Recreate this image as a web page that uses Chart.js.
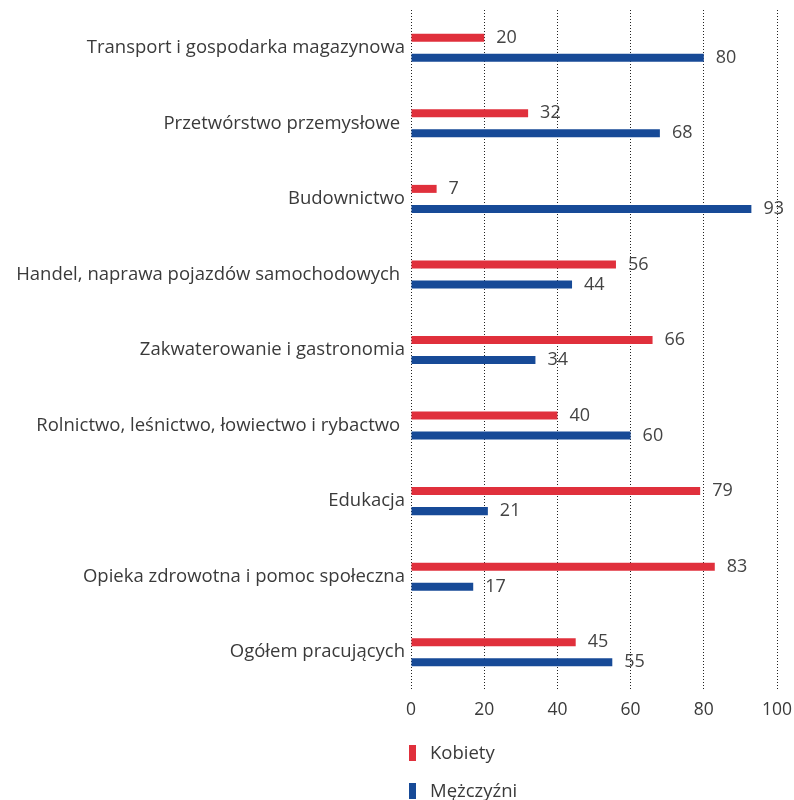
<!DOCTYPE html>
<html>
<head>
<meta charset="utf-8">
<script src="https://cdn.jsdelivr.net/npm/chart.js@4"></script>
<style>
  body { margin: 0; background: #fff; }
  #wrap { width: 794px; height: 800px; }
</style>
</head>
<body>
<div id="wrap"><canvas id="myChart" width="794" height="800"></canvas></div>
<script>
const categories = [
    "Transport i gospodarka magazynowa",
    "Przetwórstwo przemysłowe ",
    "Budownictwo",
    "Handel, naprawa pojazdów samochodowych ",
    "Zakwaterowanie i gastronomia",
    "Rolnictwo, leśnictwo, łowiectwo i rybactwo ",
    "Edukacja",
    "Opieka zdrowotna i pomoc społeczna",
    "Ogółem pracujących"
]
const kobiety = [20, 32, 7, 56, 66, 40, 79, 83, 45]
const mezczyzni = [80, 68, 93, 44, 34, 60, 21, 17, 55]
const xTicks = [0, 20, 40, 60, 80, 100]

const fontName = "'Open Sans', sans-serif"
const textColor = "#3a3a3a"

// etykiety z wartościami za słupkami
const valueLabels = {
    id: "valueLabels",
    afterDatasetsDraw(chart) {
        const ctx = chart.ctx
        ctx.save()
        ctx.font = "18px " + fontName
        ctx.fillStyle = "#444"
        ctx.textBaseline = "middle"
        ctx.textAlign = "left"
        chart.data.datasets.forEach((ds, i) => {
            chart.getDatasetMeta(i).data.forEach((bar, j) => {
                ctx.fillText(String(ds.data[j]), bar.x + 12, bar.y)
            })
        })
        ctx.restore()
    }
}

// legenda pionowa pod wykresem
const sideLegend = {
    id: "sideLegend",
    afterDraw(chart) {
        const ctx = chart.ctx
        ctx.save()
        ctx.font = "18.5px " + fontName
        ctx.textBaseline = "middle"
        chart.data.datasets.forEach((ds, i) => {
            const y = 753 + i * 38
            ctx.fillStyle = ds.backgroundColor
            ctx.fillRect(409, y - 8, 7, 16)
            ctx.fillStyle = textColor
            ctx.fillText(ds.label, 430, y + 1)
        })
        ctx.restore()
    }
}

const config = {
    type: "bar",
    data: {
        labels: categories,
        datasets: [
            {
                label: "Kobiety",
                data: kobiety,
                backgroundColor: "#e0303c",
                categoryPercentage: 0.53,
                barPercentage: 0.4
            },
            {
                label: "Mężczyźni",
                data: mezczyzni,
                backgroundColor: "#174a97",
                categoryPercentage: 0.53,
                barPercentage: 0.4
            }
        ]
    },
    options: {
        indexAxis: "y",
        responsive: false,
        animation: false,
        layout: { padding: { top: 10, right: 17, left: 0, bottom: 0 } },
        plugins: {
            legend: { display: false },
            tooltip: { enabled: false }
        },
        scales: {
            x: {
                min: 0,
                max: 100,
                afterBuildTicks: (s) => { s.ticks = xTicks.map((v) => ({ value: v })) },
                afterFit: (s) => {
                    s.height = 110
                    s.paddingLeft = 0
                    s.paddingRight = 0
                },
                border: { display: false, dash: [1, 2] },
                grid: {
                    color: "#222",
                    lineWidth: 1,
                    drawTicks: false
                },
                ticks: {
                    padding: 10,
                    color: textColor,
                    font: { family: fontName, size: 17.5 }
                }
            },
            y: {
                afterFit: (s) => {
                    s.width = 411
                    s.paddingTop = 0
                    s.paddingBottom = 0
                },
                border: { display: false },
                grid: { display: false, drawTicks: false },
                ticks: {
                    padding: 6,
                    color: textColor,
                    font: { family: fontName, size: 18.5 }
                }
            }
        }
    },
    plugins: [valueLabels, sideLegend]
}

const chartDOM = document.getElementById("myChart")
const myChart = new Chart(chartDOM, config)
</script>
</body>
</html>
